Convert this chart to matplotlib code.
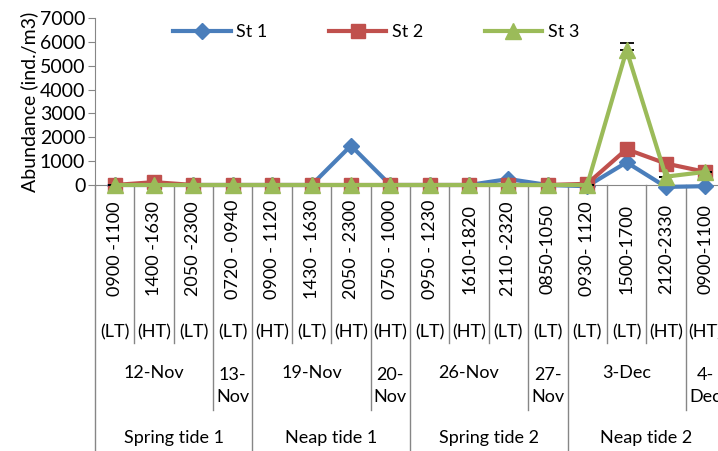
import matplotlib
matplotlib.use("Agg")
import matplotlib.pyplot as plt
from matplotlib.lines import Line2D
import matplotlib.transforms as mtransforms

plt.rcParams['font.family'] = ['Lato', 'DejaVu Sans']

times = ["0900 -1100", "1400 -1630", "2050 -2300", "0720 - 0940",
         "0900 - 1120", "1430 - 1630", "2050 - 2300", "0750 - 1000",
         "0950 - 1230", "1610-1820", "2110 -2320", "0850-1050",
         "0930- 1120", "1500-1700", "2120-2330", "0900-1100"]
tides = ["(LT)", "(HT)", "(LT)", "(LT)", "(HT)", "(LT)", "(HT)", "(HT)",
         "(LT)", "(HT)", "(LT)", "(LT)", "(LT)", "(LT)", "(HT)", "(HT)"]
dates = ["12-Nov", "13-\nNov", "19-Nov", "20-\nNov", "26-Nov", "27-\nNov", "3-Dec", "4-\nDec"]
date_sizes = [3, 1, 3, 1, 3, 1, 3, 1]
phases = ["Spring tide 1", "Neap tide 1", "Spring tide 2", "Neap tide 2"]
phase_sizes = [4, 4, 4, 4]

st1 = [0, 0, 0, 0, 0, 0, 1650, 0, 0, 0, 250, 0, -50, 950, -80, -50]
st2 = [0, 120, 0, 0, 0, 0, 0, 0, 0, 0, 0, 0, 50, 1500, 900, 550]
st3 = [0, 0, 0, 0, 0, 0, 0, 0, 0, 0, 0, 0, 0, 5650, 350, 550]
st3_err_up = [0, 0, 0, 0, 0, 0, 0, 0, 0, 0, 0, 0, 0, 300, 0, 0]

W, H = 718, 451
fig = plt.figure(figsize=(W / 100, H / 100), dpi=100)
ax_left, ax_right, ax_top, ax_bot = 95, 725, 18, 185
ax = fig.add_axes([ax_left / W, 1 - ax_bot / H, (ax_right - ax_left) / W, (ax_bot - ax_top) / H])
ax.patch.set_alpha(0)

x = list(range(len(times)))
blue, red, green = "#4A7EBB", "#C0504D", "#9BBB59"
ax.plot(x, st1, color=blue, lw=3, marker="D", ms=8, label="St 1", clip_on=False, zorder=3)
ax.plot(x, st2, color=red, lw=3, marker="s", ms=10, label="St 2", clip_on=False, zorder=4)
ax.plot(x, st3, color=green, lw=3, marker="^", ms=12, label="St 3", clip_on=False, zorder=5)
ax.errorbar(x, st3, yerr=[[0] * len(st3), st3_err_up], fmt="none", ecolor="black",
            elinewidth=1, capsize=5, capthick=1.3, zorder=4)

ax.set_xlim(-0.5, len(times) - 0.5)
ax.set_ylim(0, 7000)
ax.set_yticks(range(0, 7001, 1000))
ax.tick_params(axis="y", labelsize=14, color="#868686", length=5, pad=2)
ax.set_xticks([])
for s in ["top", "right"]:
    ax.spines[s].set_visible(False)
for s in ["left", "bottom"]:
    ax.spines[s].set_color("#868686")
ax.set_ylabel("Abundance (ind./m3)", fontsize=14, labelpad=1)

trans = mtransforms.blended_transform_factory(ax.transData, ax.transAxes)
hgt = ax_bot - ax_top

def ay(py):
    return (ax_bot - py) / hgt

sep_color = "#868686"
date_bounds = set()
acc = 0
for s in date_sizes:
    acc += s
    date_bounds.add(acc)
phase_bounds = set()
acc = 0
for s in phase_sizes:
    acc += s
    phase_bounds.add(acc)
for k in range(0, len(times) + 1):
    if k == 0 or k in phase_bounds:
        yb = 451
    elif k in date_bounds:
        yb = 410
    else:
        yb = 343
    ax.plot([k - 0.5, k - 0.5], [0, ay(yb)], color=sep_color, lw=1, transform=trans, clip_on=False)

for i in range(len(times)):
    ax.text(i, ay(249), times[i], rotation=90, ha="center", va="center", fontsize=13,
            transform=trans, clip_on=False)
    ax.text(i, ay(332), tides[i], ha="center", va="center", fontsize=13, transform=trans)

acc = 0
for d, s in zip(dates, date_sizes):
    c = acc + (s - 1) / 2
    if "\n" in d:
        ax.text(c, ay(386), d, ha="center", va="center", fontsize=13, transform=trans,
                linespacing=1.45)
    else:
        ax.text(c, ay(373), d, ha="center", va="center", fontsize=13, transform=trans)
    acc += s
acc = 0
for p, s in zip(phases, phase_sizes):
    c = acc + (s - 1) / 2
    ax.text(c, ay(438), p, ha="center", va="center", fontsize=13, transform=trans)
    acc += s

handles = [Line2D([], [], color=blue, lw=3, marker="D", ms=8),
           Line2D([], [], color=red, lw=3, marker="s", ms=10),
           Line2D([], [], color=green, lw=3, marker="^", ms=12)]
fig.legend(handles, ["St 1", "St 2", "St 3"], loc="center", bbox_to_anchor=(376 / W, 1 - 32 / H),
           ncol=3, frameon=False, fontsize=13, handlelength=3.2, handletextpad=0.3,
           columnspacing=3.4)

fig.savefig("out.png", dpi=100)
